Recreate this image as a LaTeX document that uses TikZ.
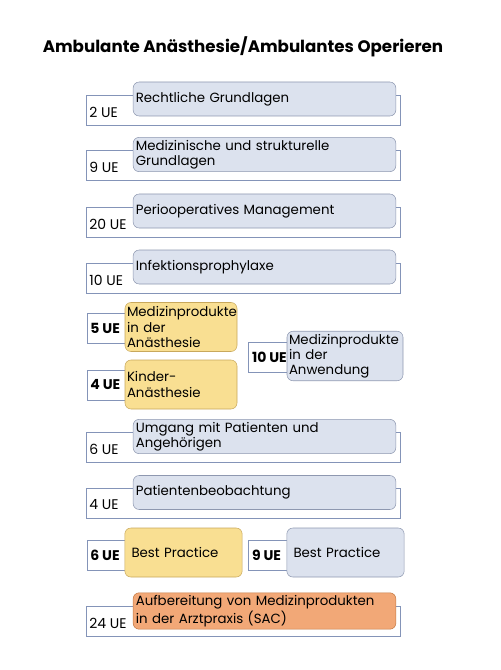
\documentclass[tikz,border=0pt]{standalone}
\usepackage{fontspec}
\setmainfont{Poppins}
\usetikzlibrary{positioning}
\hyphenpenalty=10000
\definecolor{framecol}{HTML}{8494B8}
\definecolor{bluefill}{HTML}{DCE2EE}
\definecolor{blueline}{HTML}{8E98B0}
\definecolor{yellowfill}{HTML}{F9DF92}
\definecolor{yellowline}{HTML}{C8A85C}
\definecolor{orangefill}{HTML}{F2A877}
\definecolor{orangeline}{HTML}{C47A44}
\tikzset{
    frame/.style={draw=framecol,fill=white,minimum width=235.5pt,minimum height=22.5pt,inner sep=0pt},
    topic/.style={draw=blueline,fill=bluefill,rounded corners=4.5pt,minimum height=25.5pt,
        text width=193pt,inner xsep=2pt,inner ysep=2pt,align=left,font=\fontsize{10}{11.4}\selectfont},
    hours/.style={anchor=west,inner sep=0pt,font=\fontsize{10.5}{12}\selectfont}
}
\begin{document}
\begin{tikzpicture}[
    x=0.75pt, y=-0.75pt,
    small/.style={minimum width=84.75pt},
    yellow/.style={topic,draw=yellowline,fill=yellowfill,text width=81pt,inner xsep=1.5pt,minimum height=36.75pt},
    side/.style={topic,text width=84pt,inner xsep=1.5pt,minimum height=36.75pt},
    bold/.style={hours,font=\fontsize{10.5}{12}\selectfont\bfseries}
]
\useasboundingbox (0,0) rectangle (500,670);
% Titel
\node[font=\fontsize{12.5}{15}\selectfont\bfseries] (title) at (243,47) {Ambulante Anästhesie/Ambulantes Operieren};

% Grundlagen
\node[frame] (F1) at (243,110) {};
\node[topic] (T1) at (264.5,99) {Rechtliche Grundlagen};
\node[hours] (U1) at ([xshift=2.5pt,yshift=-1.5pt]F1.west) {2 UE};

\node[frame] (F2) at (243,165) {};
\node[topic] (T2) at (264.5,154.5) {Medizinische und strukturelle\\Grundlagen};
\node[hours] (U2) at ([xshift=2.5pt,yshift=-1.5pt]F2.west) {9 UE};

\node[frame] (F3) at (243,222) {};
\node[topic] (T3) at (264.5,211) {Periooperatives Management};
\node[hours] (U3) at ([xshift=2.5pt,yshift=-1.5pt]F3.west) {20 UE};

\node[frame] (F4) at (243,278) {};
\node[topic] (T4) at (264.5,267) {Infektionsprophylaxe};
\node[hours] (U4) at ([xshift=2.5pt,yshift=-1.5pt]F4.west) {10 UE};

% Medizinprodukte
\node[frame,small] (F5) at (143.5,328.5) {};
\node[yellow] (T5) at (181,327) {Medizinprodukte\\in der\\Anästhesie};
\node[bold] (U5) at ([xshift=2.5pt]F5.west) {5 UE};

\node[frame,small] (F6) at (143.5,385) {};
\node[yellow] (T6) at (181,384.5) {Kinder-\\Anästhesie};
\node[bold] (U6) at ([xshift=2.5pt]F6.west) {4 UE};

\node[frame,minimum width=61.5pt] (F7) at (289,357) {};
\node[side] (T7) at (345,356) {Medizinprodukte\\in der\\Anwendung};
\node[bold] (U7) at ([xshift=3pt]F7.west) {10 UE};

% Patienten
\node[frame] (F8) at (243,447) {};
\node[topic] (T8) at (264.5,436.5) {Umgang mit Patienten und\\Angehörigen};
\node[hours] (U8) at ([xshift=2.5pt,yshift=-1.5pt]F8.west) {6 UE};

\node[frame] (F9) at (243,503) {};
\node[topic] (T9) at (264.5,492.5) {Patientenbeobachtung};
\node[hours] (U9) at ([xshift=2.5pt,yshift=-1.5pt]F9.west) {4 UE};

% Best Practice
\node[frame,small] (F10) at (143.5,555) {};
\node[yellow,text width=78pt,inner xsep=5pt] (T10) at (183.5,552.5) {Best Practice};
\node[bold] (U10) at ([xshift=2.5pt]F10.west) {6 UE};

\node[frame,minimum width=61.5pt] (F11) at (289,555) {};
\node[side,text width=78pt,inner xsep=5pt] (T11) at (345.5,552.5) {Best Practice};
\node[bold] (U11) at ([xshift=3pt]F11.west) {9 UE};

% Aufbereitung
\node[frame] (F12) at (243,621.5) {};
\node[topic,draw=orangeline,fill=orangefill] (T12) at (264.5,611) {Aufbereitung von Medizinprodukten\\in der Arztpraxis (SAC)};
\node[hours] (U12) at ([xshift=2.5pt,yshift=-1.5pt]F12.west) {24 UE};
\end{tikzpicture}
\end{document}
